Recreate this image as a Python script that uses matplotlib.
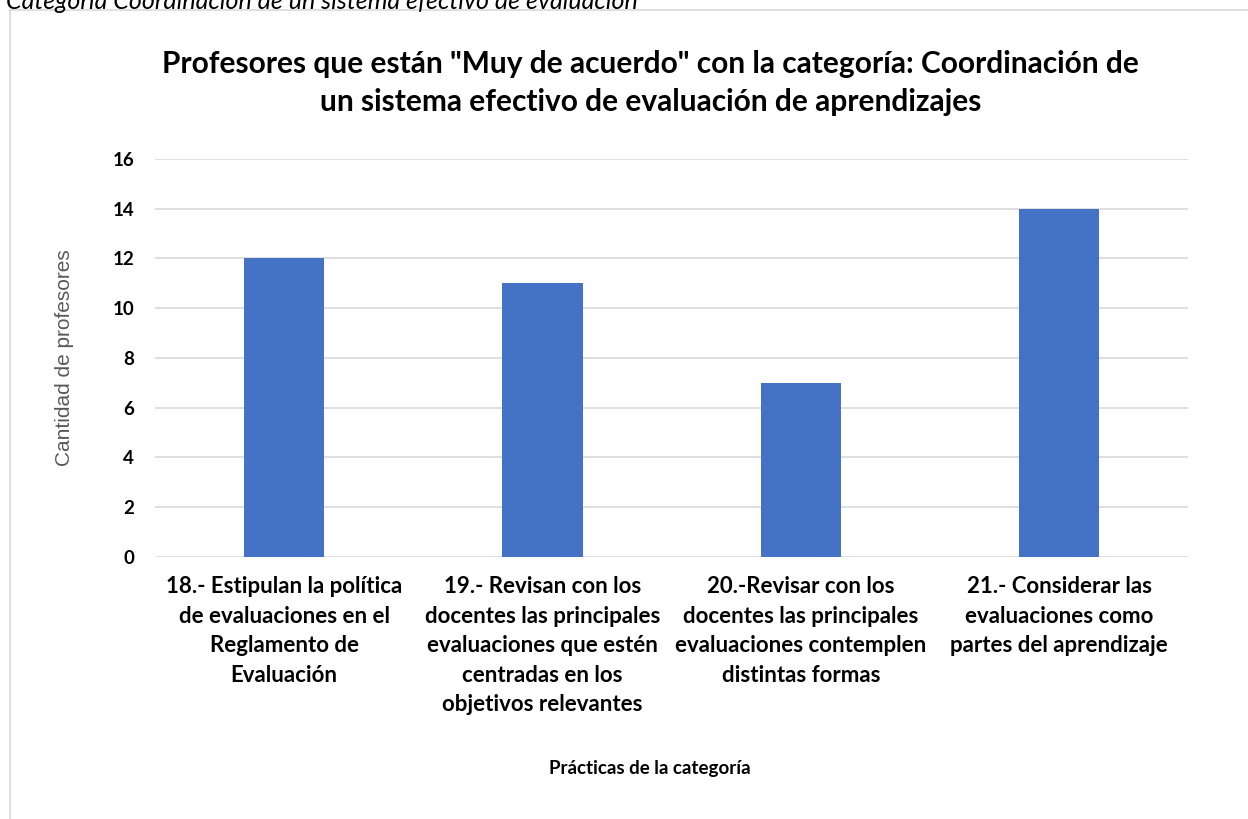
import matplotlib.pyplot as plt
from matplotlib.lines import Line2D

categorias = [
    "18.- Estipulan la política\nde evaluaciones en el\nReglamento de\nEvaluación",
    "19.- Revisan con los\ndocentes las principales\nevaluaciones que estén\ncentradas en los\nobjetivos relevantes",
    "20.-Revisar con los\ndocentes las principales\nevaluaciones contemplen\ndistintas formas",
    "21.- Considerar las\nevaluaciones como\npartes del aprendizaje",
]
profesores = [12, 11, 7, 14]
yticks = [0, 2, 4, 6, 8, 10, 12, 14, 16]

titulo = 'Profesores que están "Muy de acuerdo" con la categoría: Coordinación de\nun sistema efectivo de evaluación de aprendizajes'
encabezado = "Categoría Coordinación de un sistema efectivo de evaluación"

fam = ["Lato", "DejaVu Sans"]

fig = plt.figure(figsize=(12.48, 8.19), dpi=100)
ax = fig.add_axes([0.1242, 0.3199, 0.828, 0.486])

x = range(len(categorias))
ax.bar(x, profesores, width=0.31, color="#4472C4", zorder=3)
ax.set_ylim(0, 16)
ax.set_xlim(-0.5, len(categorias) - 0.5)
ax.set_yticks(yticks)
ax.set_yticklabels([str(v) for v in yticks], fontsize=13.5, fontweight="bold", family=fam)
ax.set_xticks(list(x))
ax.set_xticklabels(categorias, fontsize=16, fontweight="bold", family=fam,
                   linespacing=1.5, va="top")
ax.tick_params(axis="both", length=0)
ax.tick_params(axis="y", pad=15)
ax.tick_params(axis="x", pad=14)
ax.grid(axis="y", color="#d9d9d9", linewidth=1.2, zorder=0)
for s in ax.spines.values():
    s.set_visible(False)

ax.set_ylabel("Cantidad de profesores", fontsize=15, color="#595959",
              family=["Liberation Sans", "DejaVu Sans"], labelpad=28)

fig.text(0.521, 0.899, titulo, ha="center", va="center", fontsize=21.5,
         fontweight="bold", family=fam, linespacing=1.45)
fig.text(0.521, 0.062, "Prácticas de la categoría", ha="center", va="center",
         fontsize=13.5, fontweight="bold", family=fam)
fig.text(0.005, 0.998, encabezado, ha="left", va="center", fontsize=18,
         style="italic", family=fam)

# marco del gráfico
fig.add_artist(Line2D([0.008, 1.0], [0.988, 0.988], color="#d9d9d9", linewidth=1.2))
fig.add_artist(Line2D([0.008, 0.008], [0.988, 0.0], color="#d9d9d9", linewidth=1.2))

fig.savefig("out.png", dpi=100)
